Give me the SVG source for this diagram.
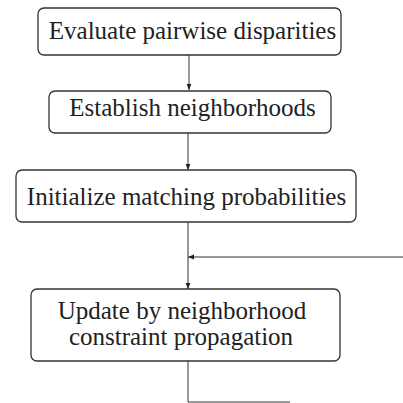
<svg xmlns="http://www.w3.org/2000/svg" width="403" height="403" viewBox="0 0 403 403">
<defs>
<style>
.box{fill:#fff;stroke:#333;stroke-width:1.3}
.t{font-family:"Liberation Serif","Times New Roman",serif;font-size:25px;fill:#222;text-anchor:middle}
.c{fill:none;stroke:#333;stroke-width:1}
</style>
<marker id="ah" viewBox="0 0 10 10" refX="10" refY="5" markerWidth="6" markerHeight="6" orient="auto" markerUnits="userSpaceOnUse"><path d="M0,1 L10,5 L0,9 z" fill="#222"/></marker>
</defs>
<rect width="403" height="403" fill="#fff"/>
<g id="connectors">
<line class="c" x1="189" y1="55" x2="189" y2="90" marker-end="url(#ah)"/>
<line class="c" x1="188" y1="133" x2="188" y2="170" marker-end="url(#ah)"/>
<line class="c" x1="188" y1="222" x2="188" y2="289" marker-end="url(#ah)"/>
<line class="c" x1="403" y1="257" x2="188" y2="257" marker-end="url(#ah)"/>
<polyline class="c" points="188,361 188,402 290,402"/>
</g>
<g id="n1">
<rect class="box" x="38" y="8" width="303" height="47" rx="6"/>
<text class="t" x="192.5" y="39">Evaluate pairwise disparities</text>
</g>
<g id="n2">
<rect class="box" x="49" y="91" width="282" height="42" rx="6"/>
<text class="t" x="192.5" y="116">Establish neighborhoods</text>
</g>
<g id="n3">
<rect class="box" x="16" y="170" width="340" height="52" rx="6"/>
<text class="t" x="186.5" y="205">Initialize matching probabilities</text>
</g>
<g id="n4">
<rect class="box" x="31" y="289" width="309" height="72" rx="6"/>
<text class="t" x="182" y="319">Update by neighborhood</text>
<text class="t" x="181" y="345">constraint propagation</text>
</g>
</svg>
